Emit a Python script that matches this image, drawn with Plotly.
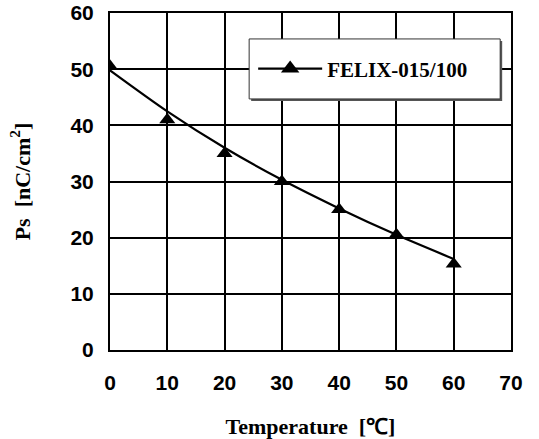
import plotly.graph_objects as go

# Measured data (markers)
temp = [0, 10, 20, 30, 40, 50, 60]
ps = [50.5, 41.0, 35.0, 30.0, 25.0, 20.5, 15.3]
# Smoothed trend curve
trend_x = [0, 10, 20, 30, 40, 50, 60]
trend_y = [49.8, 42.5, 36.0, 30.3, 25.2, 20.5, 16.2]

series_name = "FELIX-015/100"
x_ticks = [0, 10, 20, 30, 40, 50, 60, 70]
y_ticks = [0, 10, 20, 30, 40, 50, 60]

fig = go.Figure()
fig.add_trace(go.Scatter(x=trend_x, y=trend_y, mode="lines",
                         line=dict(color="black", width=2.2, shape="spline", smoothing=0.8),
                         showlegend=False, hoverinfo="skip"))
fig.add_trace(go.Scatter(x=temp, y=ps, mode="markers",
                         marker=dict(symbol="triangle-up", size=14, color="black"),
                         showlegend=False))
fig.add_trace(go.Scatter(x=[None], y=[None], mode="lines+markers", name=series_name,
                         line=dict(color="black", width=2.2),
                         marker=dict(symbol="triangle-up", size=17, color="black")))

axis_common = dict(showgrid=True, gridcolor="black", gridwidth=2,
                   showline=True, linecolor="black", linewidth=2, mirror=True,
                   zeroline=False, ticks="", automargin=False,
                   tickfont=dict(family="Liberation Sans", size=21, color="black", weight="bold"))

fig.update_xaxes(range=[0, 70], tickvals=x_ticks, ticklabelstandoff=13,
                 title=dict(text="Temperature  [℃]", standoff=33,
                            font=dict(family="Liberation Serif", size=22, color="black", weight="bold")),
                 **axis_common)
fig.update_yaxes(range=[0, 60], tickvals=y_ticks, ticklabelstandoff=10,
                 title=dict(text="Ps  [nC/cm<sup>2</sup>]", standoff=34,
                            font=dict(family="Liberation Serif", size=22, color="black", weight="bold")),
                 **axis_common)

# legend box with shadow
fig.add_shape(type="rect", xref="paper", yref="paper", x0=0.352, x1=0.978, y0=0.739, y1=0.917,
              fillcolor="#555555", line=dict(width=0), layer="above")
fig.add_shape(type="rect", xref="paper", yref="paper", x0=0.347, x1=0.973, y0=0.745, y1=0.923,
              fillcolor="white", line=dict(color="#333333", width=1), layer="above")

fig.update_layout(
    width=539, height=439,
    margin=dict(l=110, r=28, t=13, b=89),
    plot_bgcolor="white", paper_bgcolor="white",
    legend=dict(x=0.357, y=0.834, xanchor="left", yanchor="middle",
                bgcolor="rgba(0,0,0,0)", borderwidth=0,
                font=dict(family="Liberation Serif", size=21, color="black", weight="bold"),
                itemwidth=64),
)

fig.write_html("out.html")
